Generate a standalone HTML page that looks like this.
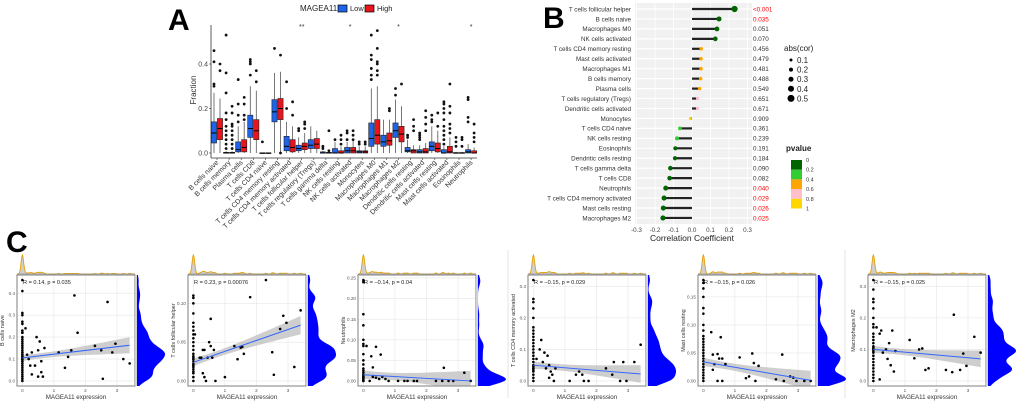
<!DOCTYPE html>
<html><head><meta charset="utf-8"><style>
html,body{margin:0;padding:0;background:#fff;}
svg{display:block;font-family:"Liberation Sans",sans-serif;}
</style></head><body>
<svg id="fig" width="1020" height="401" viewBox="0 0 1020 401"></svg>
<script>
// ---------- Panel A data ----------
const catsA=["B cells naive","B cells memory","Plasma cells","T cells CD8","T cells CD4 naive","T cells CD4 memory resting","T cells CD4 memory activated","T cells follicular helper","T cells regulatory (Tregs)","T cells gamma delta","NK cells resting","NK cells activated","Monocytes","Macrophages M0","Macrophages M1","Macrophages M2","Dendritic cells resting","Dendritic cells activated","Mast cells resting","Mast cells activated","Eosinophils","Neutrophils"];
const lowQ1=[.045,0,.005,.07,0,.14,.01,.01,.02,0,0,0,0,.03,.03,.07,.005,0,.01,0,0,0];
const lowMed=[.09,0,.015,.11,0,.185,.03,.02,.035,0,0,.01,.005,.065,.05,.1,.01,.005,.03,0,0,.005];
const lowQ3=[.14,.003,.05,.17,.001,.24,.075,.035,.06,.005,.02,.025,.01,.135,.08,.135,.025,.015,.05,.015,.002,.015];
const lowWhi=[.27,.008,.12,.3,.002,.36,.14,.07,.12,.01,.05,.05,.03,.29,.15,.24,.06,.035,.12,.03,.005,.04];
const highQ1=[.06,0,.005,.06,0,.15,.005,.015,.02,0,0,0,0,.04,.035,.05,0,0,.005,0,0,0];
const highMed=[.11,0,.025,.1,0,.2,.025,.03,.04,0,0,.01,.005,.08,.055,.085,.01,.005,.02,.005,0,0];
const highQ3=[.155,.003,.06,.15,.001,.245,.06,.045,.065,.003,.01,.025,.01,.15,.09,.12,.015,.02,.045,.03,.002,.01];
const highWhi=[.245,.008,.14,.28,.002,.365,.12,.09,.1,.008,.03,.06,.03,.3,.15,.21,.035,.045,.1,.07,.005,.025];
const lowOut=[[.46,.41,.31,.3],[.53,.36,.27,.18,.15,.12,.1,.08,.06,.04,.02],[.33,.22,.17,.14],[.42,.41,.4,.35],[.05],[.47],[.32,.2],[.11,.1],[],[.03,.02],[.06],[.1,.09,.06],[.05,.04],[.53,.44,.42,.38,.35,.33],[],[.29,.26],[.08,.07],[.09,.08,.07,.06],[.17,.15,.14],[.23,.22,.2,.18,.15,.12,.1,.08,.06,.04],[.07,.05,.03],[.25,.24,.16,.14]];
const highOut=[[.4,.37],[.21,.18,.13,.12,.1,.08,.06,.04,.02],[.25,.22,.17,.15],[.37,.32],[],[.44,0],[.23,.17],[.14,.13,.11],[],[.1,.01],[.08,.06,.04],[.1,.08,.06],[.05,.04],[.55,.47,.41,.4,.37,.35],[.2,.19],[.31],[.15,.12,.1],[.19,.16,.13,.1],[.18,.12],[.31,.21,.18,.13,.11,.09],[.07,.06,.03],[.13,.09,.07,.05]];
const sigA=["","","","","","","","**","","","","*","","","","*","","","","","","*"];
const ticksA=[0,0.2,0.4];
const tickLabA=["0.0","0.2","0.4"];

// ---------- Panel B data ----------
const catsB=["T cells follicular helper","B cells naive","Macrophages M0","NK cells activated","T cells CD4 memory resting","Mast cells activated","Macrophages M1","B cells memory","Plasma cells","T cells regulatory (Tregs)","Dendritic cells activated","Monocytes","T cells CD4 naive","NK cells resting","Eosinophils","Dendritic cells resting","T cells gamma delta","T cells CD8","Neutrophils","T cells CD4 memory activated","Mast cells resting","Macrophages M2"];
const corB=[.23,.146,.135,.126,.05,.049,.049,.047,.041,.03,.03,-.009,-.065,-.081,-.09,-.092,-.117,-.121,-.142,-.151,-.155,-.157];
const pB=[0.0005,.035,.051,.070,.456,.479,.481,.488,.549,.651,.671,.909,.361,.239,.191,.184,.090,.082,.040,.029,.026,.025];
const pLabB=["<0.001","0.035","0.051","0.070","0.456","0.479","0.481","0.488","0.549","0.651","0.671","0.909","0.361","0.239","0.191","0.184","0.090","0.082","0.040","0.029","0.026","0.025"];
const ticksB=[-.3,-.2,-.1,0,.1,.2,.3];
const tickLabB=["-0.3","-0.2","-0.1","0.0","0.1","0.2","0.3"];
const sizeLegB=[.1,.2,.3,.4,.5];
const pColorLab=["0","0.2","0.4","0.6","0.8","1"];

// ---------- Panel C data ----------
const titlesC=["B cells naive","T cells follicular helper","Neutrophils","T cells CD4 memory activated","Mast cells resting","Macrophages M2"];
const statC=["R = 0.14, p = 0.035","R = 0.23, p = 0.00076","R = \u22120.14, p = 0.04","R = \u22120.15, p = 0.029","R = \u22120.15, p = 0.026","R = \u22120.15, p = 0.025"];
const interC=[.105,.024,.015,.05,.034,.1];
const slopeC=[.017,.0141,-.0044,-.0082,-.0097,-.0088];
const yTicksC=[[0,.1,.2,.3,.4],[0,.05,.1],[0,.05,.1,.15,.2,.25],[0,.1,.2,.3],[0,.05,.1,.15],[0,.1,.2,.3]];
const yTickLabC=[["0.0","0.1","0.2","0.3","0.4"],["0.00","0.05","0.10"],["0.00","0.05","0.10","0.15","0.20","0.25"],["0.0","0.1","0.2","0.3"],["0.00","0.05","0.10","0.15"],["0.0","0.1","0.2","0.3"]];
const xTicksC=[0,1,2,3];
const zeroY1=[.46,.41,.31,.3,.27,.26,.23,.22,.22,.2,.19,.18,.17,.16,.15,.14,.13,.12,.11,.1,.09,.08,.07,.06,.05,.04,.03,.02,.01,0,.12,.13,.11,.1,.09];
const px1=[.1,.15,.2,.25,.3,.3,.4,.45,.5,.55,.6,.6,.7,.5,.65,1.15,1.35,1.45,1.55,1.65,1.75,2.3,2.5,2.55,2.7,2.85,2.95,3.2,3.4];
const py1=[.24,.12,.1,.07,.13,.03,.07,.2,.14,.18,.09,.04,.15,.02,.02,.13,.06,.11,.14,.39,.22,.16,.14,.01,.36,.13,.17,.1,.08];
const zeroY2=[.11,.107,.1,.087,.075,.07,.065,.06,.055,.05,.045,.04,.035,.03,.025,.02,.015,.01,.005,0,.032,.028,.022,.018,.012];
const px2=[.05,.2,.25,.3,.35,.3,.35,.4,.45,.5,.55,.55,.6,.65,.7,1.0,1.3,1.4,1.5,1.6,1.55,2.3,1.8,2.5,2.55,2.75,2.85,2.95,3.2,3.4];
const py2=[.06,.03,.03,.04,.04,.01,.005,0,.03,.05,.08,.045,.03,.04,0,.005,.045,.028,.043,.035,.044,.13,.108,.037,.008,.067,.084,.075,.018,.091];
const zeroY3=[.245,.24,.162,.135,.1,.09,.085,.065,.05,.04,.03,.025,.02,.015,.01,.005,0,0,.002,.008,.012];
const px3=[.1,.25,.3,.4,.55,.3,.4,.5,.6,.7,.2,.8,1.1,1.3,1.4,1.6,1.7,2.3,2.5,2.55,2.7,2.85,3.2,3.4];
const py3=[.085,.06,.033,.083,.064,.01,.008,.005,.01,.005,0,0,0,0,0,0,0,0,0,.032,0,0,.02,0];
const zeroY4=[.32,.26,.25,.23,.2,.17,.16,.15,.14,.13,.12,.11,.1,.09,.08,.07,.06,.05,.04,.03,.02,.01,0,.045,.035];
const px4=[.1,.2,.25,.3,.35,.4,.45,.5,.5,.55,.6,.7,.65,1.15,1.35,1.45,1.55,1.6,1.75,2.3,2.5,2.55,2.75,2.85,2.95,3.2,3.4];
const py4=[.07,.1,.13,.06,.09,.04,.08,.05,.01,.03,.02,.04,0,0,.02,.03,.02,0,0,.04,.02,.06,0,.06,0,.06,.115];
const zeroY5=[.18,.175,.165,.15,.13,.12,.1,.09,.08,.07,.06,.055,.05,.045,.04,.035,.03,.025,.02,.015,.01,.005,0,.065,.075];
const px5=[.25,.3,.35,.3,.45,.5,.55,.6,.45,.6,.7,1.15,1.35,1.45,1.55,1.6,1.65,1.75,2.3,2.5,2.55,2.75,2.85,2.95,3.2,3.4];
const py5=[.087,.047,.03,.02,.048,.04,.078,.04,0,0,.03,.042,.005,.008,.049,.032,0,.027,.003,.047,0,.008,.006,0,0,0];
const zeroY6=[.32,.29,.26,.25,.23,.2,.18,.17,.15,.14,.13,.12,.11,.1,.09,.08,.07,.06,.05,.04,.03,.02,.01,0,.105,.095];
const px6=[.1,.2,.25,.3,.4,.45,.5,.55,.6,.7,.65,.2,1.15,1.3,1.45,1.55,1.65,1.75,2.3,2.55,2.5,2.75,2.85,2.95,3.2,3.4];
const py6=[.17,.15,.16,.09,.1,.07,.12,.05,.16,.095,.03,.005,.13,.072,.1,.103,.035,.04,.035,.21,.028,.035,.087,.048,.14,.09];
const zeroYC=[zeroY1,zeroY2,zeroY3,zeroY4,zeroY5,zeroY6];
const pxC=[px1,px2,px3,px4,px5,px6];
const pyC=[py1,py2,py3,py4,py5,py6];

const NS="http://www.w3.org/2000/svg";
const svg=document.getElementById('fig');
function mk(tag,attrs,parent,txt){const e=document.createElementNS(NS,tag);for(const k in attrs)e.setAttribute(k,attrs[k]);if(txt!==undefined)e.textContent=txt;(parent||svg).appendChild(e);return e;}
const defs=mk('defs',{});

// ================= Panel A =================
const gA=mk('g',{});


const aL=211,aR=477,aB=158,aT=25;
const yA=v=>153-v*222.5;
const xA=i=>217+i*12.1;
let t=mk('text',{x:168,y:30,'font-size':30,'font-weight':'bold'},gA,'A');


t=mk('text',{x:300,y:11,'font-size':8,fill:'#222'},gA,'MAGEA11');


let r=mk('rect',{x:338,y:5,width:9,height:7,fill:'#1f64e8',stroke:'#000','stroke-width':.7},gA);


t=mk('text',{x:350,y:11,'font-size':7.5,fill:'#222'},gA,'Low');


r=mk('rect',{x:365,y:5,width:9,height:7,fill:'#e8161c',stroke:'#000','stroke-width':.7},gA);


t=mk('text',{x:377,y:11,'font-size':7.5,fill:'#222'},gA,'High');


mk('line',{x1:aL,y1:aT,x2:aL,y2:aB,stroke:'#333','stroke-width':.8},gA);
mk('line',{x1:aL,y1:aB,x2:aR,y2:aB,stroke:'#333','stroke-width':.8},gA);
ticksA.forEach((v,i)=>{
  mk('line',{x1:aL-2,x2:aL,y1:yA(v),y2:yA(v),stroke:'#333','stroke-width':.6},gA);
  const tt=mk('text',{x:aL-3,y:yA(v)+2.5,'font-size':7,'text-anchor':'end',fill:'#444'},gA,tickLabA[i]);
  
  
});
t=mk('text',{x:196,y:90,'font-size':8,'text-anchor':'middle',fill:'#333',transform:'rotate(-90 196 90)'},gA,'Fraction');


function drawBox(cx,q1,md,q3,wh,out,fill,name){
  const g=mk('g',{},gA);
  
  
  mk('line',{x1:cx,x2:cx,y1:yA(q3),y2:yA(wh),stroke:'#555','stroke-width':.8},g);
  mk('line',{x1:cx,x2:cx,y1:yA(q1),y2:yA(0),stroke:'#555','stroke-width':.8},g);
  mk('rect',{x:cx-2.6,y:yA(q3),width:5.2,height:Math.max(.8,yA(q1)-yA(q3)),fill:fill,stroke:'#222','stroke-width':.6},g);
  mk('line',{x1:cx-2.6,x2:cx+2.6,y1:yA(md),y2:yA(md),stroke:'#000','stroke-width':1},g);
  out.forEach(v=>mk('circle',{cx:cx,cy:yA(v),r:1.4,fill:'#111'},g));
}
catsA.forEach((c,i)=>{
  const cx=xA(i);
  drawBox(cx-3,lowQ1[i],lowMed[i],lowQ3[i],lowWhi[i],lowOut[i],'#1f64e8','box-low');
  drawBox(cx+3,highQ1[i],highMed[i],highQ3[i],highWhi[i],highOut[i],'#e8161c','box-high');
  mk('line',{x1:cx,x2:cx,y1:aB,y2:aB+2,stroke:'#333','stroke-width':.6},gA);
  const tt=mk('text',{x:cx+2,y:aB+5,'font-size':7,'text-anchor':'end',fill:'#333',transform:`rotate(-45 ${cx+2} ${aB+5})`},gA,c);
  
  
  if(sigA[i]){const s=mk('text',{x:cx,y:29,'font-size':7,'text-anchor':'middle',fill:'#333'},gA,sigA[i]);
  
  }
});

// ================= Panel B =================
const gB=mk('g',{});


const xB=v=>692+v*185;
const yB=i=>9+i*9.95;
t=mk('text',{x:543,y:28,'font-size':30,'font-weight':'bold'},gB,'B');


mk('rect',{x:635,y:3,width:117,height:221,fill:'#f1f1f1'},gB);
catsB.forEach((c,i)=>mk('line',{x1:635,x2:752,y1:yB(i),y2:yB(i),stroke:'#fff','stroke-width':1.2},gB));
ticksB.forEach(v=>mk('line',{x1:xB(v),x2:xB(v),y1:3,y2:224,stroke:'#fff','stroke-width':.8},gB));
function pCol(p){return p<.2?'#006400':p<.4?'#32cd32':p<.6?'#ffa500':p<.8?'#ffc0cb':'#ffd700';}
catsB.forEach((c,i)=>{
  const y=yB(i);
  const tt=mk('text',{x:631,y:y+2.3,'font-size':6.3,'text-anchor':'end',fill:'#333'},gB,c);
  
  
  const ln=mk('line',{x1:xB(0),x2:xB(corB[i]),y1:y,y2:y,stroke:'#222','stroke-width':2.2},gB);
  
  
  const d=mk('circle',{cx:xB(corB[i]),cy:y,r:1.4+Math.abs(corB[i])*7.5,fill:pCol(pB[i])},gB);
  
  
  const pt=mk('text',{x:753,y:y+2.3,'font-size':6.3,fill:pB[i]<.05?'#ff0000':'#333'},gB,pLabB[i]);
  
  
});
ticksB.forEach((v,i)=>{
  const tt=mk('text',{x:xB(v),y:232,'font-size':6.3,'text-anchor':'middle',fill:'#444'},gB,tickLabB[i]);
  
  
});
t=mk('text',{x:692,y:241,'font-size':8.5,'text-anchor':'middle',fill:'#222'},gB,'Correlation Coefficient');


t=mk('text',{x:784,y:51,'font-size':8,fill:'#222'},gB,'abs(cor)');


sizeLegB.forEach((v,i)=>{
  const y=60+i*9.6;
  const c=mk('circle',{cx:791,cy:y,r:1+v*5,fill:'#000'},gB);
  
  
  const tt=mk('text',{x:797,y:y+3,'font-size':8,fill:'#222'},gB,String(v));
  
  
});
t=mk('text',{x:786,y:151,'font-size':8,'font-weight':'bold',fill:'#222'},gB,'pvalue');


['#006400','#32cd32','#ffa500','#ffc0cb','#ffd700'].forEach((col,i)=>{
  const rr=mk('rect',{x:791,y:160+i*9.7,width:11,height:9.7,fill:col},gB);
  
  
});
pColorLab.forEach((l,i)=>{
  const tt=mk('text',{x:806,y:162+i*9.7,'font-size':5.5,fill:'#333'},gB,l);
  
  
});

// ================= Panel C =================
t=mk('text',{x:6,y:252,'font-size':30,'font-weight':'bold'},svg,'C');


[508,845].forEach(x=>{const l=mk('line',{x1:x,x2:x,y1:250,y2:398,stroke:'#ddd','stroke-width':.8});

});
const lefts=[17,188,358,528,698,868];
const PW=118,PT=275,PB=386;
for(let k=0;k<6;k++){
  const g=mk('g',{});
  
  
  const xs=zeroYC[k].map(()=>0).concat(pxC[k]);
  const ys=zeroYC[k].concat(pyC[k]);
  const L=lefts[k],R=L+PW;
  const cp=mk('clipPath',{id:'cp'+k},defs);
  mk('rect',{x:L,y:PT,width:PW,height:PB-PT},cp);
  const xmin=Math.min(...xs),xmax=Math.max(...xs),xr=xmax-xmin;
  const ymin=Math.min(...ys),ymax=Math.max(...ys),yr=ymax-ymin;
  const X=v=>L+(v-(xmin-.05*xr))/(1.1*xr)*PW;
  const Y=v=>PB-(v-(ymin-.05*yr))/(1.1*yr)*(PB-PT);
  mk('rect',{x:L,y:PT,width:PW,height:PB-PT,fill:'#fff'},g);
  yTicksC[k].forEach((v,i)=>{
    mk('line',{x1:L,x2:R,y1:Y(v),y2:Y(v),stroke:'#e6e6e6','stroke-width':.6},g);
    const tt=mk('text',{x:L-2,y:Y(v)+1.6,'font-size':4.6,'text-anchor':'end',fill:'#555'},g,yTickLabC[k][i]);
    
    
  });
  xTicksC.forEach(v=>{
    mk('line',{x1:X(v),x2:X(v),y1:PT,y2:PB,stroke:'#e6e6e6','stroke-width':.6},g);
    const tt=mk('text',{x:X(v),y:PB+6,'font-size':4.6,'text-anchor':'middle',fill:'#555'},g,String(v));
    
    
  });
  const n=xs.length,xbar=xs.reduce((a,b)=>a+b,0)/n;
  const Sxx=xs.reduce((a,b)=>a+(b-xbar)**2,0);
  const fit=v=>interC[k]+slopeC[k]*v;
  const s=Math.sqrt(ys.reduce((a,b,i)=>a+(b-fit(xs[i]))**2,0)/(n-2));
  const hw=v=>0.9*s*Math.sqrt(1/n+(v-xbar)**2/Sxx);
  const steps=[];for(let q=0;q<=20;q++)steps.push(xmin+q*(xmax-xmin)/20);
  const up=steps.map(v=>`${X(v)},${Y(fit(v)+hw(v))}`),dn=steps.slice().reverse().map(v=>`${X(v)},${Y(fit(v)-hw(v))}`);
  const band=mk('polygon',{points:up.concat(dn).join(' '),fill:'#bdbdbd','fill-opacity':.75,'clip-path':`url(#cp${k})`},g);
  
  
  xs.forEach((v,i)=>{const c=mk('circle',{cx:X(v),cy:Y(ys[i]),r:1.3,fill:'#000'},g);
    
    });
  const rl=mk('line',{x1:X(xmin),y1:Y(fit(xmin)),x2:X(xmax),y2:Y(fit(xmax)),stroke:'#3366ff','stroke-width':1},g);
  
  
  mk('rect',{x:L,y:PT,width:PW,height:PB-PT,fill:'none',stroke:'#8a8a8a','stroke-width':1.1},g);
  mk('rect',{x:R,y:PT,width:2,height:PB-PT,fill:'#d0d0d0'},g);
  const st=mk('text',{x:L+6,y:PT+9,'font-size':5.6,fill:'#222'},g,statC[k]);
  
  
  const yt=mk('text',{x:L-13,y:(PT+PB)/2,'font-size':5.5,'text-anchor':'middle',fill:'#333',transform:`rotate(-90 ${L-13} ${(PT+PB)/2})`},g,titlesC[k]);
  
  
  const xt=mk('text',{x:L+PW/2,y:PB+13,'font-size':6.2,'text-anchor':'middle',fill:'#333'},g,'MAGEA11 expression');
  
  
  // top marginal density of x (narrow kernel -> spike at 0)
  const bwx=0.012*xr;
  const kx=v=>xs.reduce((a,b)=>a+Math.exp(-.5*((v-b)/bwx)**2),0);
  const gx=[];for(let q=0;q<=240;q++)gx.push(xmin-.05*xr+q*1.1*xr/240);
  const dx=gx.map(kx),mx=Math.max(...dx);
  const top=gx.map((v,i)=>`${X(v)},${274-dx[i]/mx*19}`);
  mk('polygon',{points:`${X(gx[0])},274 `+top.join(' ')+` ${X(gx[240])},274`,fill:'#cfcfcf',stroke:'none'},g);
  const tl=mk('polyline',{points:top.join(' '),fill:'none',stroke:'#e69f00','stroke-width':.9},g);
  
  
  mk('line',{x1:L,x2:R,y1:274,y2:274,stroke:'#999','stroke-width':.8},g);
  // right marginal density of y
  const bwy=0.045*yr;
  const ky=v=>ys.reduce((a,b)=>a+Math.exp(-.5*((v-b)/bwy)**2),0);
  const gy=[];for(let q=0;q<=100;q++)gy.push(ymin-.05*yr+q*1.1*yr/100);
  const dy=gy.map(ky),my=Math.max(...dy);
  const side=gy.map((v,i)=>`${R+2+dy[i]/my*28},${Y(v)}`);
  const rd=mk('polygon',{points:`${R+2},${Y(gy[0])} `+side.join(' ')+` ${R+2},${Y(gy[100])}`,fill:'#0000ff'},g);
  
  
}
</script>
</body></html>
